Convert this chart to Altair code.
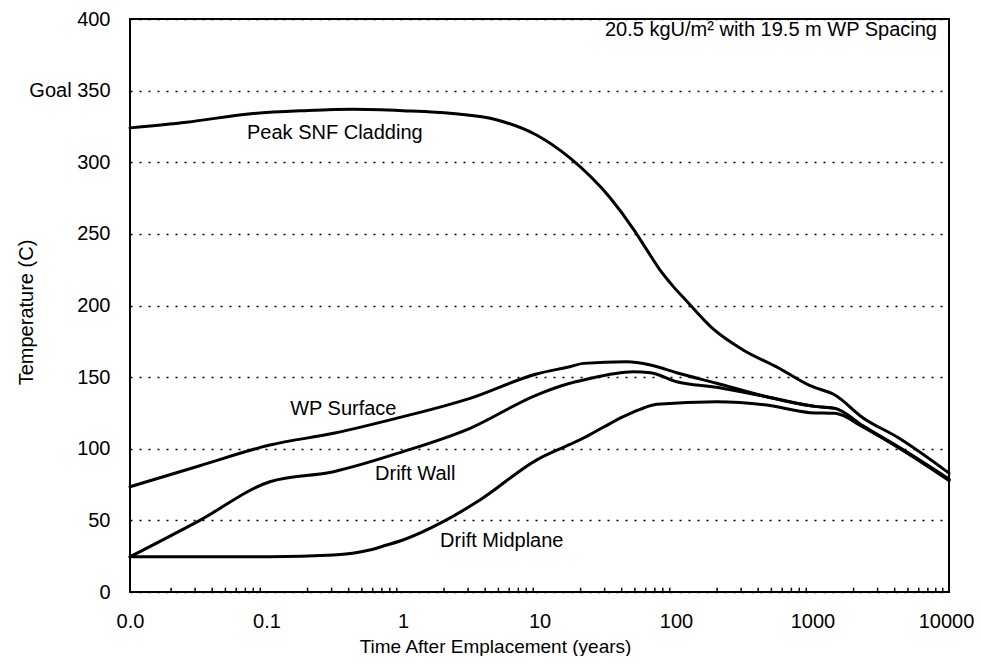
import altair as alt
import pandas as pd

# ---- data ----
peak_t = [0.01, 0.026, 0.08, 0.19, 0.43, 1, 2.3, 4.9, 9.5, 16.7, 33, 49, 61, 76, 96, 120, 188, 310, 550, 960, 1460, 2350, 4200, 10000]
peak_T = [324, 328, 334, 336, 337, 336, 334, 329.5, 319, 303, 275, 253, 239, 225, 213, 203, 183.5, 169, 157, 144, 137.5, 121.5, 108, 83]

wp_t = [0.01, 0.032, 0.106, 0.31, 1, 3.1, 9.5, 16.7, 21, 43.5, 65, 101, 199, 461, 1074, 1462, 2360, 4380, 10000]
wp_T = [73.5, 88, 102.6, 110.8, 122.4, 135.2, 152.2, 157.3, 159.6, 160.8, 158.5, 153.1, 145.7, 136.3, 129.4, 128.2, 115.8, 100.6, 78.8]

wall_t = [0.01, 0.032, 0.106, 0.31, 1, 3.1, 9.5, 16.7, 21, 48.6, 65, 101, 199, 461, 1074, 1462, 2360, 4380, 10000]
wall_T = [24.6, 49.7, 77, 84, 98, 114.3, 137.5, 145.7, 148, 153.8, 153.1, 146.8, 142.9, 136.3, 129.4, 128.2, 115.4, 100.3, 78.2]

mid_t = [0.01, 0.106, 0.31, 0.57, 0.76, 1, 1.97, 3.66, 9.5, 16.7, 21, 29.3, 41.1, 54.5, 72.3, 199, 461, 960, 1462, 2360, 4380, 10000]
mid_T = [24.6, 24.6, 25.8, 29.3, 32.8, 36.3, 49.1, 64.2, 92.1, 103, 107.5, 115, 122.4, 127.5, 131, 132.8, 130.5, 125.2, 124.7, 115, 100, 77.8]

series_names = ["Peak SNF Cladding", "WP Surface", "Drift Wall", "Drift Midplane"]

label_text = ["Peak SNF Cladding", "WP Surface", "Drift Wall", "Drift Midplane"]
label_t = [0.072, 0.149, 0.624, 1.87]
label_T = [320.6, 127.8, 82.4, 35.8]

note_text = ["20.5 kgU/m\u00b2 with 19.5 m WP Spacing"]
note_t = [8166]
note_T = [392]

x_tick_values = [0.01, 0.1, 1, 10, 100, 1000, 10000]
y_tick_values = [0, 50, 100, 150, 200, 250, 300, 350, 400]
minor_mult = [2, 3, 4, 5, 6, 7, 8, 9]
minor_decades = [0.01, 0.1, 1, 10, 100, 1000]

# ---- tables ----
rows = []
for name, ts, vs in zip(series_names, [peak_t, wp_t, wall_t, mid_t], [peak_T, wp_T, wall_T, mid_T]):
    for t, v in zip(ts, vs):
        rows.append({"series": name, "t": t, "T": v})
df = pd.DataFrame(rows)

labels_df = pd.DataFrame({"text": label_text, "t": label_t, "T": label_T})
note_df = pd.DataFrame({"text": note_text, "t": note_t, "T": note_T})
minor_df = pd.DataFrame({"t": [m * d for d in minor_decades for m in minor_mult]})

FONT = "Liberation Sans"
xscale = alt.Scale(type="log", domain=[0.01, 10000])
yscale = alt.Scale(domain=[0, 400])

xaxis = alt.Axis(
    values=x_tick_values,
    labelExpr="datum.value < 0.05 ? '0.0' : (datum.value < 0.5 ? '0.1' : format(datum.value, 'd'))",
    title="Time After Emplacement (years)",
    ticks=False, tickSize=0, domain=False, grid=False,
    labelFontSize=20, labelPadding=19, labelFlush=False, labelOverlap=False,
    labelOffset={"condition": {"test": "datum.value > 5000", "value": -3}, "value": 0},
    labelColor="black", titleColor="black",
    titleFontSize=19, titleFontWeight="normal",
    titleX=365, titleY=45, titleBaseline="top", titleAlign="center",
)
yaxis = alt.Axis(
    values=y_tick_values,
    labelExpr="datum.value == 350 ? 'Goal    350' : datum.label",
    title="Temperature (C)",
    ticks=False, tickSize=0, domain=False,
    grid=True, gridDash=[2, 7], gridColor="black", gridWidth=1.5, gridOpacity=1,
    labelFontSize=20, labelPadding=20, labelFlush=False, labelOverlap=False,
    labelColor="black", titleColor="black",
    titleFontSize=20, titleFontWeight="normal",
    titleX=-94, titleY=293, titleBaseline="bottom", titleAngle=-90, titleAlign="center",
)

lines = alt.Chart(df).mark_line(
    color="black", strokeWidth=3, interpolate="monotone", strokeJoin="round", strokeCap="round"
).encode(
    x=alt.X("t:Q", scale=xscale, axis=xaxis),
    y=alt.Y("T:Q", scale=yscale, axis=yaxis),
    detail="series:N",
)

minor = alt.Chart(minor_df).transform_calculate(
    lo="0", hi="3"
).mark_rule(color="black", strokeWidth=1.5).encode(
    x=alt.X("t:Q", scale=xscale, axis=xaxis),
    y=alt.Y("lo:Q", scale=yscale, axis=yaxis),
    y2="hi:Q",
)

labels = alt.Chart(labels_df).mark_text(
    align="left", baseline="middle", fontSize=20, font=FONT, color="black"
).encode(
    x=alt.X("t:Q", scale=xscale, axis=xaxis),
    y=alt.Y("T:Q", scale=yscale, axis=yaxis),
    text="text:N",
)

note = alt.Chart(note_df).mark_text(
    align="right", baseline="middle", fontSize=20, font=FONT, color="black"
).encode(
    x=alt.X("t:Q", scale=xscale, axis=xaxis),
    y=alt.Y("T:Q", scale=yscale, axis=yaxis),
    text="text:N",
)

chart = alt.layer(lines, minor, labels, note).properties(
    width=819,
    height=573,
    autosize=alt.AutoSizeParams(type="none"),
    padding={"left": 122, "top": 11, "right": 25, "bottom": 64},
).configure(
    font=FONT,
).configure_view(
    stroke="black", strokeWidth=2,
).configure_axis(
    labelFont=FONT, titleFont=FONT,
)

chart.save("out.html", embed_options={"renderer": "svg", "actions": False})
